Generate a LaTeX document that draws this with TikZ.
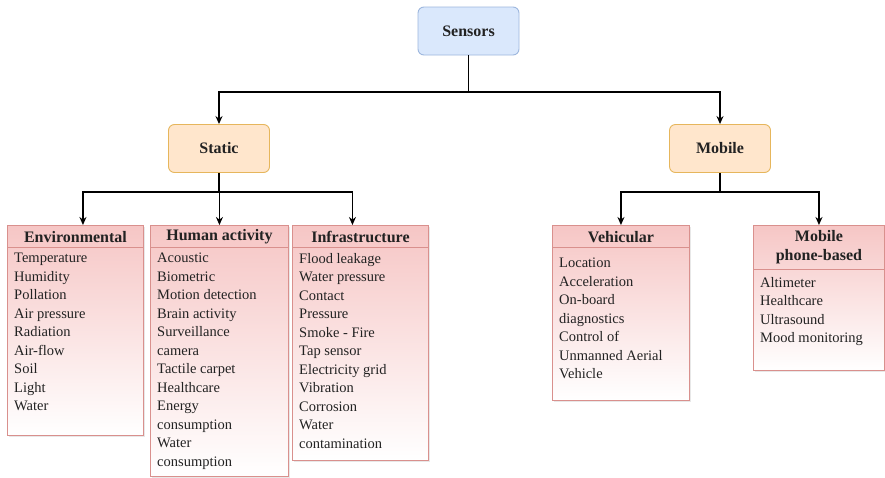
\documentclass[tikz,border=0pt]{standalone}
\usepackage{fontspec}
\setmainfont{Liberation Serif}
\usetikzlibrary{shadows,arrows.meta}
\definecolor{boxred}{HTML}{D9908D}
\definecolor{pinktop}{HTML}{F6C6C5}
\definecolor{bluefill}{HTML}{DAE8FC}
\definecolor{blueline}{HTML}{9DB7DE}
\definecolor{orangefill}{HTML}{FFE6CC}
\definecolor{orangeline}{HTML}{E6B65C}
\definecolor{txt}{HTML}{222222}

\tikzset{
  topbox/.style={rectangle, rounded corners=6pt, line width=0.9pt,
    minimum width=101pt, minimum height=48pt, inner sep=0pt,
    font=\fontsize{16}{19}\selectfont\bfseries, text=txt},
  listbox/.style={rectangle, draw=boxred, line width=0.9pt, anchor=north west,
    top color=pinktop, bottom color=white, inner sep=0pt,
    drop shadow={shadow xshift=1.2pt, shadow yshift=-1.2pt, opacity=0.18}},
  divider/.style={draw=boxred, line width=0.9pt},
  hdr/.style={font=\fontsize{16}{19}\selectfont\bfseries, text=txt, inner sep=0pt, align=center},
  items/.style={font=\fontsize{14.5}{18.5}\selectfont, text=txt, inner sep=0pt,
    align=left, anchor=north west},
  conn/.style={draw=black, line width=1.3pt},
  arr/.style={conn, -{Stealth[length=8pt, width=7pt]}}
}

\begin{document}
\begin{tikzpicture}[x=1pt, y=-1pt]
\useasboundingbox[fill=white] (0,0) rectangle (885,477);

% top level and branches
\node[topbox, fill=bluefill, draw=blueline] (sensors) at (468.5,31) {Sensors};
\node[topbox, fill=orangefill, draw=orangeline] (static) at (219,148.5) {Static};
\node[topbox, fill=orangefill, draw=orangeline] (mobile) at (720,148.5) {Mobile};

% category boxes
\node[listbox, minimum width=136pt, minimum height=210pt] (env) at (7,225) {};
\node[listbox, minimum width=138pt, minimum height=251pt] (hum) at (150,225) {};
\node[listbox, minimum width=136pt, minimum height=235pt] (inf) at (292,225) {};
\node[listbox, minimum width=137pt, minimum height=175pt] (veh) at (552,225) {};
\node[listbox, minimum width=131pt, minimum height=145pt] (mph) at (753,225) {};

% header dividers
\foreach \b in {env,hum,inf,veh}
  \draw[divider] ([yshift=-22pt]\b.north west) -- ([yshift=-22pt]\b.north east);
\draw[divider] ([yshift=-44pt]mph.north west) -- ([yshift=-44pt]mph.north east);

% headers
\node[hdr] (envh) at ([yshift=-12pt]env.north) {Environmental};
\node[hdr] (humh) at ([yshift=-12pt]hum.north) {Human activity};
\node[hdr] (infh) at ([yshift=-12pt]inf.north) {Infrastructure};
\node[hdr] (vehh) at ([yshift=-12pt]veh.north) {Vehicular};
\node[hdr] (mphh) at ([yshift=-22pt]mph.north) {Mobile\\phone-based};

% item lists
\node[items] (envi) at ([xshift=7pt, yshift=-28pt]env.north west)
  {Temperature\\Humidity\\Pollation\\Air pressure\\Radiation\\Air-flow\\Soil\\Light\\Water};
\node[items] (humi) at ([xshift=7pt, yshift=-28pt]hum.north west)
  {Acoustic\\Biometric\\Motion detection\\Brain activity\\Surveillance\\camera\\Tactile carpet\\Healthcare\\Energy\\consumption\\Water\\consumption};
\node[items] (infi) at ([xshift=7pt, yshift=-28pt]inf.north west)
  {Flood leakage\\Water pressure\\Contact\\Pressure\\Smoke - Fire\\Tap sensor\\Electricity grid\\Vibration\\Corrosion\\Water\\contamination};
\node[items] (vehi) at ([xshift=7pt, yshift=-33pt]veh.north west)
  {Location\\Acceleration\\On-board\\diagnostics\\Control of\\Unmanned Aerial\\Vehicle};
\node[items] (mphi) at ([xshift=7pt, yshift=-52pt]mph.north west)
  {Altimeter\\Healthcare\\Ultrasound\\Mood monitoring};

% junction points of the tree connectors
\coordinate (j0) at (468.5,92);
\coordinate (j1) at (219,192);
\coordinate (j2) at (720,192);

\draw[conn] (sensors.south) -- (j0);
\draw[arr] (j0) -| (static.north);
\draw[arr] (j0) -| (mobile.north);

\draw[conn] (static.south) -- (j1);
\draw[arr] (j1) -| ([xshift=7.5pt]env.north);
\draw[arr] (j1) -| (hum.north);
\draw[arr] (j1) -| ([xshift=-8pt]inf.north);

\draw[conn] (mobile.south) -- (j2);
\draw[arr] (j2) -| (veh.north);
\draw[arr] (j2) -| (mph.north);
\end{tikzpicture}
\end{document}
